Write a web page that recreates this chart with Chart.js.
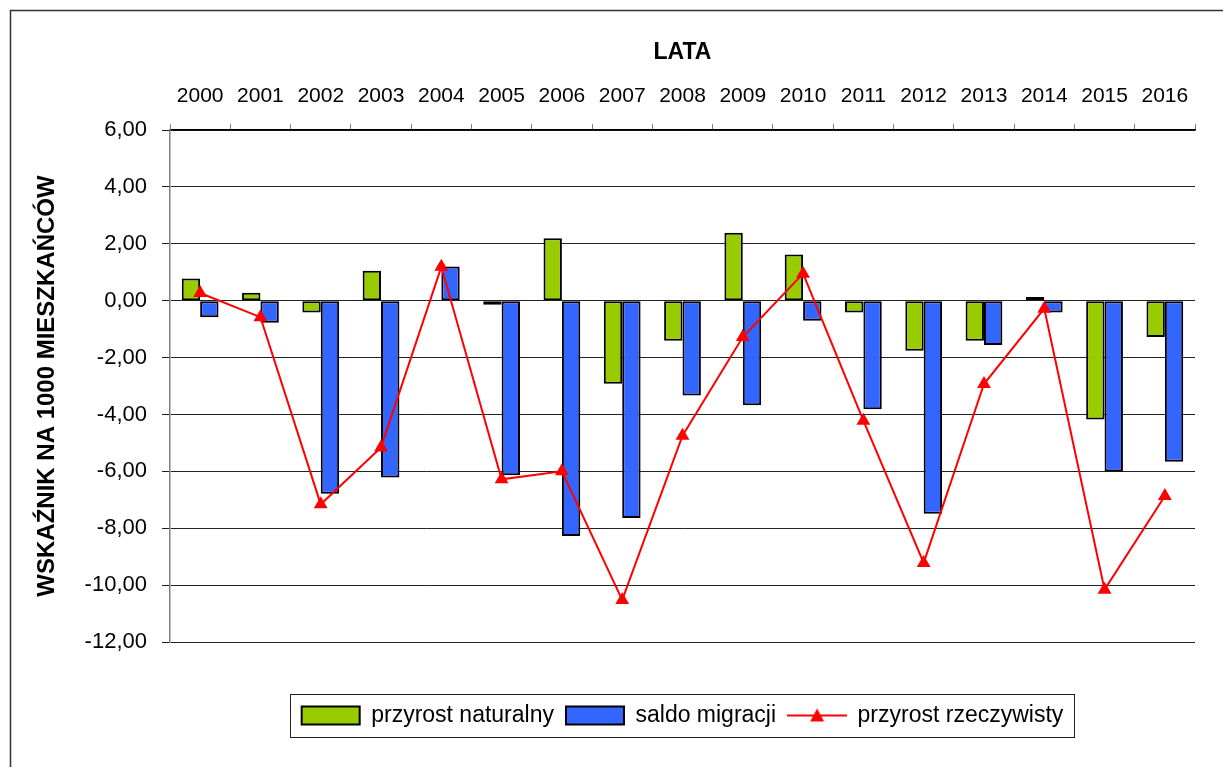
<!DOCTYPE html>
<html lang="pl">
<head>
<meta charset="utf-8">
<title>Przyrost naturalny, saldo migracji, przyrost rzeczywisty</title>
<script src="https://cdn.jsdelivr.net/npm/chart.js@4.4.1/dist/chart.umd.min.js"></script>
<style>
	html, body { margin: 0; padding: 0; background: #fff; }
	.chart-box { position: relative; width: 1223px; height: 767px; }
</style>
</head>
<body>
<div class="chart-box"><canvas id="chart"></canvas></div>
<script>
const years = ['2000', '2001', '2002', '2003', '2004', '2005', '2006', '2007', '2008',
	'2009', '2010', '2011', '2012', '2013', '2014', '2015', '2016'];

const naturalGrowth = [0.78, 0.28, -0.42, 1.05, 0.0, -0.14, 2.19, -2.92, -1.41,
	2.39, 1.62, -0.42, -1.76, -1.41, 0.13, -4.18, -1.28];

const migrationBalance = [-0.58, -0.78, -6.79, -6.22, 1.2, -6.14, -8.27, -7.64, -3.33,
	-3.68, -0.71, -3.82, -7.49, -1.56, -0.42, -6.01, -5.66];

const realGrowth = [0.27, -0.58, -7.16, -5.16, 1.19, -6.28, -6.0, -10.52, -4.75,
	-1.28, 0.95, -4.22, -9.22, -2.93, -0.28, -10.16, -6.87];

const yTicks = [6, 4, 2, 0, -2, -4, -6, -8, -10, -12];

const FONT = "'Liberation Sans', Arial, sans-serif";
const PAD = { left: 12, top: 20, right: 28, bottom: 30 };

Chart.defaults.color = '#000';
Chart.defaults.font.family = FONT;

// legend sample for the line series: red line with a triangle
const lineSample = document.createElement('canvas');
lineSample.width = 60;
lineSample.height = 18;
(() => {
	const ctx = lineSample.getContext('2d');
	ctx.strokeStyle = '#ff0000';
	ctx.lineWidth = 2;
	ctx.beginPath();
	ctx.moveTo(0, 9);
	ctx.lineTo(60, 9);
	ctx.stroke();
	ctx.fillStyle = '#ff0000';
	ctx.beginPath();
	ctx.moveTo(30, 2);
	ctx.lineTo(37, 15);
	ctx.lineTo(23, 15);
	ctx.closePath();
	ctx.fill();
})();

const framePlugin = {
	id: 'frame',
	beforeDraw(chart) {
		const { ctx, width, height } = chart;
		ctx.save();
		ctx.fillStyle = '#fff';
		ctx.fillRect(0, 0, width, height);
		ctx.strokeStyle = '#333';
		ctx.lineWidth = 1.5;
		ctx.strokeRect(10.5, 10.5, width + 20, height + 20);
		ctx.restore();
	},
	afterDraw(chart) {
		const boxes = chart.legend?.legendHitBoxes || [];
		if (!boxes.length) {
			return;
		}
		const left = Math.min(...boxes.map((b) => b.left));
		const right = Math.max(...boxes.map((b) => b.left + b.width));
		const top = Math.min(...boxes.map((b) => b.top));
		const bottom = Math.max(...boxes.map((b) => b.top + b.height));
		const { ctx } = chart;
		ctx.save();
		ctx.strokeStyle = '#222';
		ctx.lineWidth = 1;
		ctx.strokeRect(Math.round(left - 12) + 0.5, Math.round(top - 10) + 0.5,
			Math.round(right - left + 22), Math.round(bottom - top + 20));
		ctx.restore();
	},
};

const barBorder = (ctx) => (ctx.raw === 0 ? 0 : 2);

new Chart(document.getElementById('chart'), {
	type: 'bar',
	data: {
		labels: years,
		datasets: [
			{
				label: 'przyrost naturalny',
				data: naturalGrowth,
				backgroundColor: '#99cc00',
				borderColor: '#000',
				borderWidth: barBorder,
				borderSkipped: false,
				order: 1,
			},
			{
				label: 'saldo migracji',
				data: migrationBalance,
				backgroundColor: '#3366ff',
				borderColor: '#000',
				borderWidth: barBorder,
				borderSkipped: false,
				order: 2,
			},
			{
				type: 'line',
				label: 'przyrost rzeczywisty',
				data: realGrowth,
				borderColor: '#ff0000',
				backgroundColor: '#ff0000',
				borderWidth: 2,
				tension: 0,
				pointStyle: 'triangle',
				pointRadius: 8,
				pointBorderWidth: 0,
				pointBackgroundColor: '#ff0000',
				order: 0,
			},
		],
	},
	options: {
		responsive: true,
		maintainAspectRatio: false,
		animation: false,
		events: [],
		layout: { padding: PAD },
		datasets: {
			bar: {
				categoryPercentage: 0.61,
				barPercentage: 1.0,
			},
		},
		scales: {
			x: {
				position: 'top',
				offset: true,
				afterFit: (scale) => { scale.height = 130 - PAD.top; },
				grid: {
					drawOnChartArea: false,
					offset: true,
					tickLength: 6,
					color: '#808080',
				},
				border: { color: '#000', width: 1.5 },
				ticks: {
					font: { size: 21 },
					padding: 15,
					maxRotation: 0,
					autoSkip: false,
				},
				title: {
					display: true,
					text: 'LATA',
					font: { size: 23, weight: 'bold' },
					padding: { top: 19, bottom: 0 },
				},
			},
			y: {
				min: -12,
				max: 6,
				afterFit: (scale) => { scale.width = 170 - PAD.left; },
				afterBuildTicks: (scale) => {
					scale.ticks = yTicks.map((value) => ({ value }));
				},
				grid: {
					color: '#222',
					lineWidth: 1,
					tickLength: 8,
				},
				border: { color: '#808080', width: 1.5 },
				ticks: {
					font: { size: 22 },
					padding: 15,
					callback: (value) => Number(value).toFixed(2).replace('.', ','),
				},
				title: {
					display: true,
					text: 'WSKAŹNIK NA 1000 MIESZKAŃCÓW',
					font: { size: 24, weight: 'bold' },
					padding: { top: 21, bottom: 0 },
				},
			},
		},
		plugins: {
			tooltip: { enabled: false },
			legend: {
				position: 'bottom',
				fullSize: false,
				title: {
					display: true,
					text: '',
					font: { size: 10 },
					padding: { top: 38, bottom: 0 },
				},
				labels: {
					usePointStyle: true,
					pointStyleWidth: 58,
					boxHeight: 18,
					padding: 12,
					font: { size: 23 },
					sort: (a, b) => a.datasetIndex - b.datasetIndex,
					generateLabels: (chart) => {
						const items = Chart.defaults.plugins.legend.labels.generateLabels(chart);
						return items.map((item) => ({
							...item,
							pointStyle: item.datasetIndex === 2 ? lineSample : 'rect',
							lineWidth: item.datasetIndex === 2 ? 0 : 2,
							strokeStyle: '#000',
						}));
					},
				},
			},
		},
	},
	plugins: [framePlugin],
});
</script>
</body>
</html>
